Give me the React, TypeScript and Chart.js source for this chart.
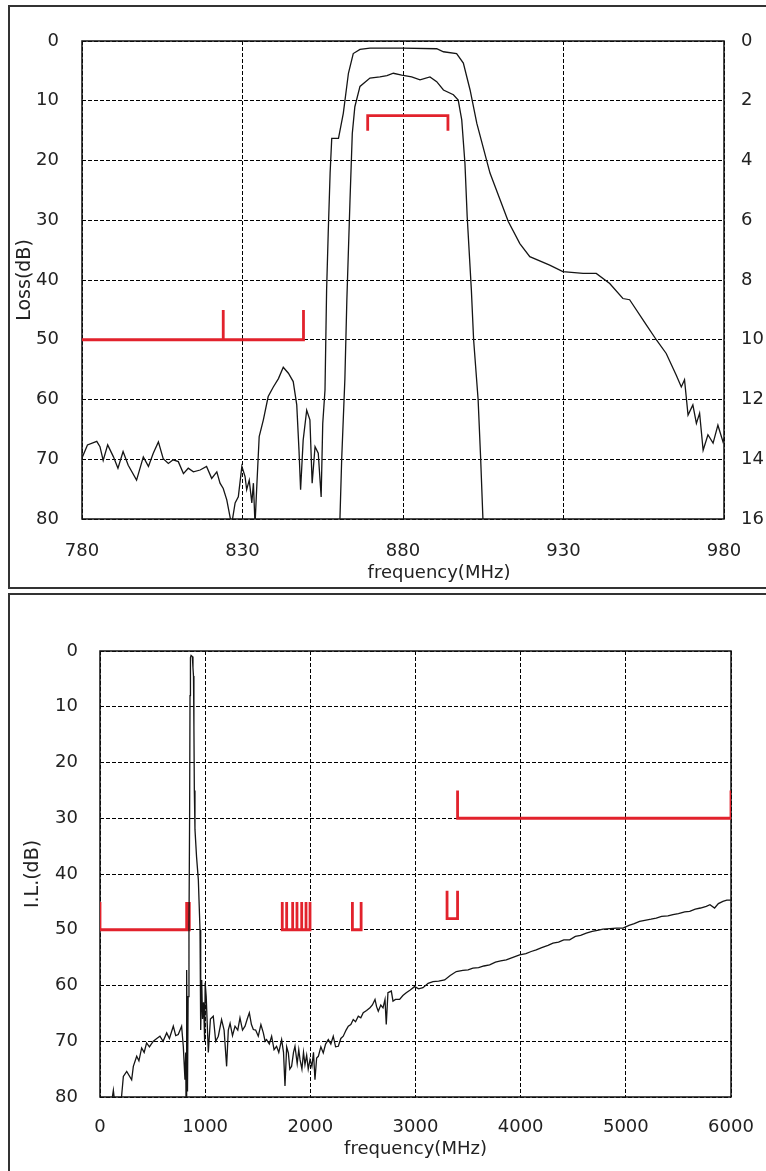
import { useEffect, useRef } from 'react';
import { Chart, registerables } from 'chart.js';

Chart.register(...registerables);

const FONT = 'DejaVu Sans';
const TEXT = '#222';
const CURVE = '#151515';
const RED = '#e2222c';

// ---------- Top chart (780-980 MHz) ----------
const topXTicks = { min: 780, max: 980, step: 50 };
const topYTicks = { min: 0, max: 80, step: 10 };
const topY2Ticks = { min: 0, max: 16, step: 2 };

// wideband attenuation (left axis, dB)
const topWideFreq = [
  780, 781.7, 784.6, 785.6, 786.6, 788, 789.8, 791.2, 792.8, 794.4, 797, 799.1, 800.7, 802.2, 803.8,
  805.3, 806.9, 808.4, 810, 811.6, 813.1, 814.7, 816.8, 818.8, 820.4, 822, 823, 824, 825.1, 826.6,
  827.7, 828.7, 829.8, 830.8, 831.3, 832.1, 832.9, 833.4, 833.9, 834.4, 835.2, 836.5, 838, 839.6,
  841.2, 842.7, 844.3, 845.8, 846.9, 847.6, 848.1, 848.9, 850, 851, 851.7, 852.6, 853.6, 854.5, 855,
  855.7, 856.2, 856.7, 857.3, 857.8, 859.9, 861.4, 863, 864.5, 866.6, 869.7, 880, 890.5, 892.6, 896.7,
  898.8, 900.9, 903, 907.1, 912.8, 916.4, 919.5, 925.7, 929.8, 936.1, 940.2, 944.4, 948.5, 950.6,
  955.8, 958.9, 962, 965.1, 966.7, 967.7, 968.8, 970.3, 971.4, 972.4, 973.5, 975, 976.6, 978.1, 979.7, 980,
];
const topWideLoss = [
  69.8, 67.6, 67.0, 67.9, 70.2, 67.6, 69.6, 71.5, 68.7, 71.0, 73.5, 69.6, 71.2, 69.0, 67.1,
  69.9, 70.7, 70.1, 70.4, 72.4, 71.5, 72.1, 71.8, 71.2, 73.2, 72.1, 74.0, 74.9, 76.8, 81,
  77.3, 76.3, 71.2, 72.9, 75.1, 73.5, 77.3, 74.0, 81, 75.1, 66.2, 63.4, 59.5, 57.9,
  56.5, 54.6, 55.6, 57.0, 60.9, 68.5, 75.1, 66.8, 61.8, 63.4, 74.0, 67.9, 69.0, 76.3, 64.0,
  58.4, 41.7, 32.2, 22.0, 16.3, 16.3, 12.1, 5.4, 2.1, 1.4, 1.2, 1.2, 1.3, 1.8, 2.1,
  3.7, 8.2, 13.8, 22.1, 30.2, 33.9, 36.1, 37.5, 38.6, 38.9, 38.9, 40.6, 43.1, 43.3,
  47.5, 50.0, 52.3, 55.9, 57.9, 56.7, 62.6, 60.9, 64.0, 62.3, 68.5, 65.9, 67.3, 64.3, 67.1, 66.5,
];

// passband insertion loss (right axis, dB)
const topPassFreq = [
  860.3, 860.9, 861.9, 862.5, 863.5, 864.2, 865, 866.6, 869.7, 872.8, 875, 877, 879.6, 882.7,
  885.3, 888.4, 890.5, 892.6, 895.7, 897.2, 898.3, 899.3, 900, 901.3, 902, 903.4, 904.2, 904.9, 905.1,
];
const topPassLoss = [
  16.2, 14.0, 11.3, 8.7, 5.3, 3.1, 2.2, 1.52, 1.24, 1.2, 1.16, 1.08, 1.14, 1.2,
  1.3, 1.2, 1.36, 1.64, 1.8, 1.98, 2.64, 4.1, 5.88, 8.34, 10.0, 12.0, 14.0, 16.0, 16.3,
];

// spec masks
const topSpecLowFreq = [780, 824, 824, 824, 849, 849];
const topSpecLowLoss = [50, 50, 45, 50, 50, 45];
const topSpecPassFreq = [869, 869, 894, 894];
const topSpecPassLoss = [3.0, 2.5, 2.5, 3.0];

// ---------- Bottom chart (0-6000 MHz) ----------
const botXTicks = { min: 0, max: 6000, step: 1000 };
const botYTicks = { min: 0, max: 80, step: 10 };

const botFreq = [
  110, 127, 140, 200, 222, 254, 301, 317, 349, 370, 396, 420, 443, 470, 507, 540, 570, 600, 634, 660,
  697, 720, 744, 776, 792, 808, 815, 818, 824, 828, 832, 838, 846, 852, 856, 860, 866, 878, 884, 889,
  893, 897, 903, 918, 935, 951, 955, 960, 967, 975, 985, 995, 1000, 1010, 1030, 1050, 1077, 1100, 1125,
  1156, 1180, 1204, 1220, 1237, 1260, 1284, 1310, 1331, 1355, 1379, 1400, 1420, 1440, 1458, 1480, 1505,
  1530, 1553, 1570, 1584, 1610, 1632, 1655, 1679, 1700, 1727, 1745, 1759, 1775, 1791, 1805, 1822, 1840,
  1854, 1875, 1890, 1902, 1920, 1935, 1949, 1965, 1980, 1997, 2015, 2030, 2044, 2060, 2076, 2100, 2123,
  2145, 2171, 2195, 2218, 2240, 2266, 2290, 2313, 2340, 2361, 2385, 2408, 2430, 2456, 2480, 2503, 2535,
  2567, 2590, 2615, 2630, 2646, 2670, 2691, 2710, 2722, 2738, 2770, 2786, 2810, 2849, 2880, 2912, 2950,
  2991, 3030, 3071, 3120, 3166, 3220, 3277, 3330, 3388, 3450, 3500, 3546, 3600, 3650, 3705, 3760, 3810,
  3863, 3920, 3990, 4050, 4100, 4148, 4200, 4260, 4307, 4360, 4410, 4466, 4520, 4570, 4624, 4680, 4730,
  4783, 4850, 4910, 4973, 5030, 5080, 5131, 5180, 5240, 5289, 5340, 5400, 5448, 5500, 5560, 5607, 5660,
  5710, 5765, 5800, 5844, 5880, 5923, 5960, 6000,
];
const botLoss = [
  81, 78.8, 81, 81, 76.3, 75.4, 76.9, 74.5, 72.7, 73.5, 71.2, 72.0, 70.3, 71.0, 70.0, 69.5, 69.1, 70.0, 68.5, 69.5,
  67.3, 69.0, 68.8, 67.3, 70.9, 76.9, 72.0, 81, 57.2, 70.0, 79.0, 62.0, 50.0, 30.0, 8.0, 1.2, 0.8, 1.0, 3.0, 4.5,
  13.6, 25.0, 32.0, 36.9, 41.0, 50.0, 62.0, 68.0, 59.0, 66.0, 63.0, 70.0, 59.5, 62.0, 72.0, 66.0, 65.5, 70.0, 69.1,
  66.1, 68.0, 74.5, 68.0, 66.8, 69.0, 67.3, 68.0, 65.8, 68.0, 67.3, 66.0, 64.9, 67.0, 67.9, 68.0, 69.1,
  67.0, 68.5, 70.0, 69.7, 70.5, 69.1, 71.5, 70.9, 72.0, 69.7, 72.0, 78.0, 71.0, 72.1, 75.0, 74.5, 72.0,
  70.9, 74.0, 71.5, 73.3, 75.0, 72.0, 74.2, 72.5, 75.0, 73.3, 74.5, 72.0, 76.9, 73.0, 72.7, 71.0, 72.1,
  70.5, 69.7, 70.5, 69.1, 71.0, 70.9, 69.5, 69.1, 68.0, 67.3, 67.0, 66.1, 66.5, 65.5, 65.8, 64.9, 64.5,
  64.0, 63.5, 62.5, 63.8, 64.6, 63.5, 64.0, 62.5, 67.0, 61.3, 61.0, 62.8, 62.5, 62.5, 61.8, 61.3, 60.8,
  60.2, 60.6, 60.4, 59.6, 59.3, 59.2, 59.0, 58.2, 57.5, 57.3, 57.2, 56.9, 56.8, 56.5, 56.3, 55.8, 55.6,
  55.4, 55.0, 54.5, 54.3, 53.9, 53.6, 53.2, 52.8, 52.4, 52.2, 51.8, 51.8, 51.2, 51.0, 50.6, 50.3, 50.1,
  49.9, 49.8, 49.7, 49.7, 49.2, 48.9, 48.5, 48.3, 48.1, 47.9, 47.6, 47.5, 47.3, 47.1, 46.8, 46.7, 46.3,
  46.1, 45.8, 45.5, 46.1, 45.3, 44.9, 44.7, 44.7,
];

const botSpecCellFreq = [0, 0, 824, 824, 824, 849, 849];
const botSpecCellLoss = [45, 50, 50, 45, 50, 50, 45];
const botSpecPcsFreq = [1733, 1733, 1775, 1775, 1775, 1832, 1832, 1832, 1873, 1873, 1873, 1918, 1918, 1918, 1959, 1959, 1959, 1997, 1997];
const botSpecPcsLoss = [45, 50, 50, 45, 50, 50, 45, 50, 50, 45, 50, 50, 45, 50, 50, 45, 50, 50, 45];
const botSpecIsmFreq = [2400, 2400, 2483, 2483];
const botSpecIsmLoss = [45, 50, 50, 45];
const botSpecWimaxFreq = [3300, 3300, 3400, 3400];
const botSpecWimaxLoss = [43, 48, 48, 43];
const botSpecHighFreq = [3400, 3400, 6000, 6000];
const botSpecHighLoss = [25, 30, 30, 25];

function zip(xs: number[], ys: number[]) {
  return xs.map((x, i) => ({ x, y: ys[i] }));
}

function curve(xs: number[], ys: number[], axis = 'y') {
  return { data: zip(xs, ys), yAxisID: axis, borderColor: CURVE, borderWidth: 1.3 };
}
function mask(xs: number[], ys: number[], axis = 'y') {
  return { data: zip(xs, ys), yAxisID: axis, borderColor: RED, borderWidth: 2.8 };
}

const framePlugin = {
  id: 'plotFrame',
  beforeDatasetsDraw(chart: any) {
    const { ctx, chartArea } = chart;
    ctx.save();
    ctx.strokeStyle = '#111';
    ctx.lineWidth = 1.5;
    ctx.strokeRect(chartArea.left, chartArea.top, chartArea.right - chartArea.left, chartArea.bottom - chartArea.top);
    ctx.restore();
  },
};

function offsetTitlePlugin(text: string, dx: number, dy: number, size: number) {
  return {
    id: 'offsetTitle',
    afterDraw(chart: any) {
      const { ctx, chartArea } = chart;
      ctx.save();
      ctx.font = `${size}px "${FONT}"`;
      ctx.fillStyle = TEXT;
      ctx.textAlign = 'center';
      ctx.textBaseline = 'middle';
      ctx.fillText(text, (chartArea.left + chartArea.right) / 2 + dx, chartArea.bottom + dy);
      ctx.restore();
    },
  };
}

const tickFont = { family: FONT, size: 18 };
const titleFont = { family: FONT, size: 19 };
const plain = (v: any) => String(v);

function gridAxis(extra: any) {
  return {
    type: 'linear',
    grid: { color: '#000', lineWidth: 1, drawTicks: false },
    border: { display: false, dash: [4, 2] },
    ...extra,
  };
}

function xFit(height: number) {
  return (s: any) => {
    s.height = height;
    s.paddingLeft = 0;
    s.paddingRight = 0;
  };
}

function baseOptions(padding: any, scales: any) {
  return {
    animation: false,
    responsive: false,
    maintainAspectRatio: false,
    layout: { padding },
    elements: { point: { radius: 0 }, line: { tension: 0 } },
    plugins: { legend: { display: false }, tooltip: { enabled: false } },
    scales,
  };
}

function TopChart() {
  const ref = useRef<HTMLCanvasElement>(null);
  useEffect(() => {
    const chart = new Chart(ref.current as HTMLCanvasElement, {
      type: 'line',
      data: {
        datasets: [
          curve(topWideFreq, topWideLoss, 'y'),
          curve(topPassFreq, topPassLoss, 'y2'),
          mask(topSpecLowFreq, topSpecLowLoss, 'y'),
          mask(topSpecPassFreq, topSpecPassLoss, 'y2'),
        ],
      } as any,
      options: baseOptions({ top: 41, left: 0, right: 0, bottom: 0 }, {
        x: gridAxis({
          min: topXTicks.min, max: topXTicks.max,
          ticks: { stepSize: topXTicks.step, padding: 22, font: tickFont, color: TEXT, maxRotation: 0, callback: plain },
          afterFit: xFit(71),
        }),
        y: gridAxis({
          position: 'left', reverse: true, min: topYTicks.min, max: topYTicks.max,
          ticks: { stepSize: topYTicks.step, padding: 23, font: tickFont, color: TEXT, callback: plain },
          title: { display: true, text: 'Loss(dB)', font: titleFont, color: TEXT, padding: { top: 14, bottom: 0 } },
          afterFit: (s: any) => { s.width = 82; },
        }),
        y2: {
          type: 'linear', position: 'right', reverse: true, min: topY2Ticks.min, max: topY2Ticks.max,
          grid: { display: false, drawTicks: false },
          border: { display: false },
          ticks: { stepSize: topY2Ticks.step, padding: 17, font: tickFont, color: TEXT, callback: plain },
          afterFit: (s: any) => { s.width = 42; },
        },
      }) as any,
      plugins: [framePlugin, offsetTitlePlugin('frequency(MHz)', 36, 54, 18)],
    });
    return () => chart.destroy();
  }, []);
  return (
    <canvas ref={ref} width={766} height={590}
      style={{ position: 'absolute', left: 0, top: 0, width: 766, height: 590 }} />
  );
}

function BottomChart() {
  const ref = useRef<HTMLCanvasElement>(null);
  useEffect(() => {
    const chart = new Chart(ref.current as HTMLCanvasElement, {
      type: 'line',
      data: {
        datasets: [
          curve(botFreq, botLoss, 'y'),
          mask(botSpecCellFreq, botSpecCellLoss),
          mask(botSpecPcsFreq, botSpecPcsLoss),
          mask(botSpecIsmFreq, botSpecIsmLoss),
          mask(botSpecWimaxFreq, botSpecWimaxLoss),
          mask(botSpecHighFreq, botSpecHighLoss),
        ],
      } as any,
      options: baseOptions({ top: 61, left: 0, right: 35, bottom: 0 }, {
        x: gridAxis({
          min: botXTicks.min, max: botXTicks.max,
          ticks: { stepSize: botXTicks.step, padding: 20, font: tickFont, color: TEXT, maxRotation: 0, callback: plain },
          title: { display: true, text: 'frequency(MHz)', font: { family: FONT, size: 18 }, color: TEXT, padding: { top: 0, bottom: 11 } },
          afterFit: xFit(74),
        }),
        y: gridAxis({
          position: 'left', reverse: true, min: botYTicks.min, max: botYTicks.max,
          ticks: { stepSize: botYTicks.step, padding: 22, font: tickFont, color: TEXT, callback: plain },
          title: { display: true, text: 'I.L.(dB)', font: titleFont, color: TEXT, padding: { top: 22, bottom: 0 } },
          afterFit: (s: any) => { s.width = 100; },
        }),
      }) as any,
      plugins: [framePlugin],
    });
    return () => chart.destroy();
  }, []);
  return (
    <canvas ref={ref} width={766} height={581}
      style={{ position: 'absolute', left: 0, top: 590, width: 766, height: 581 }} />
  );
}

export default function App() {
  return (
    <div style={{ position: 'absolute', left: 0, top: 0, width: 766, height: 1171, overflow: 'hidden', background: '#fff' }}>
      <div style={{ position: 'absolute', left: 8, top: 5, width: 770, height: 584, border: '2px solid #333', boxSizing: 'border-box' }} />
      <div style={{ position: 'absolute', left: 8, top: 593, width: 770, height: 600, border: '2px solid #333', boxSizing: 'border-box' }} />
      <TopChart />
      <BottomChart />
    </div>
  );
}
